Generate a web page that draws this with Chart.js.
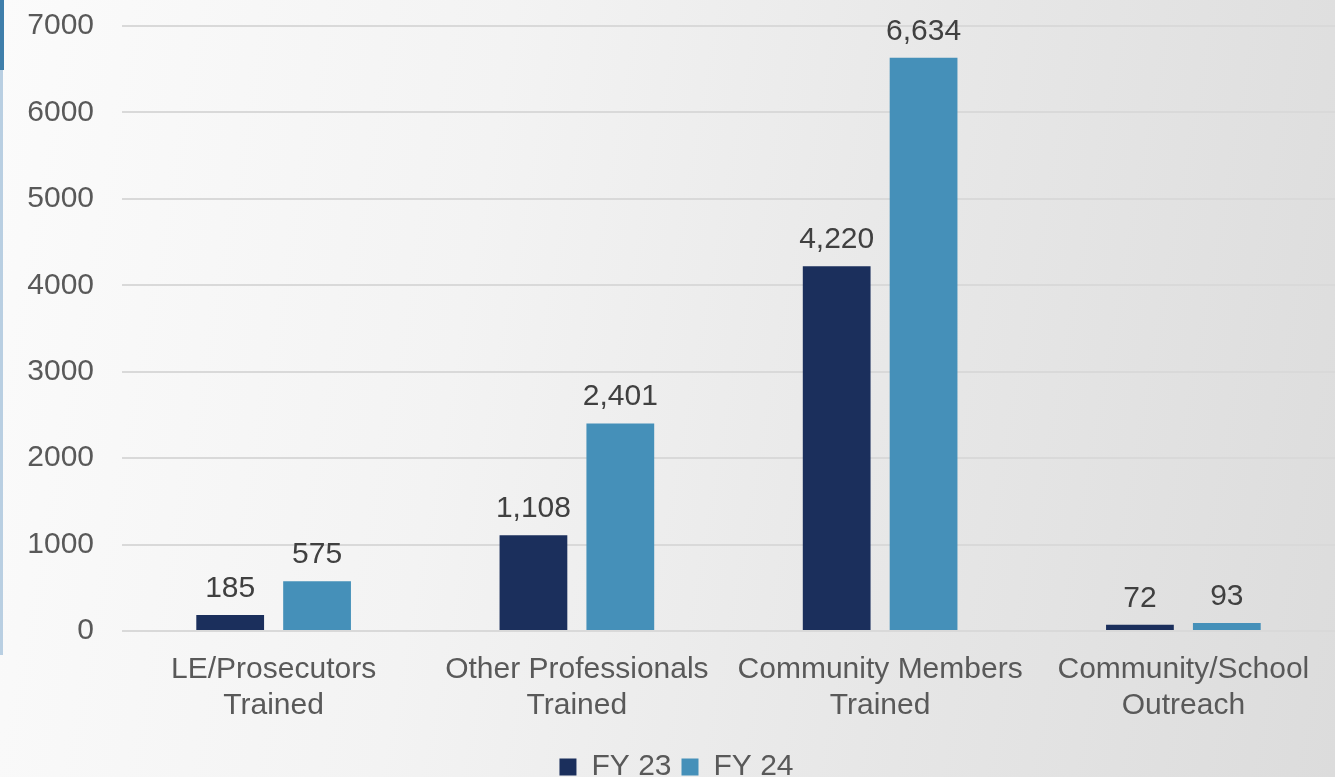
<!DOCTYPE html>
<html>
<head>
<meta charset="utf-8">
<script src="https://cdn.jsdelivr.net/npm/chart.js@4/dist/chart.umd.min.js"></script>
<style>
  html, body { margin: 0; padding: 0; }
  body {
    width: 1335px; height: 777px; overflow: hidden; position: relative;
    background: linear-gradient(100deg, #fbfbfb 0%, #f3f3f3 35%, #e6e6e6 70%, #dcdcdc 100%);
  }
  #edge1 { position: absolute; left: 0; top: 0; width: 4px; height: 70px; background: #3f7fab; }
  #edge2 { position: absolute; left: 0; top: 70px; width: 3px; height: 585px; background: #b9cfe2; }
  #wrap { position: absolute; left: 0; top: -20px; width: 1335px; height: 812px; }
</style>
</head>
<body>
<div id="edge1"></div>
<div id="edge2"></div>
<div id="wrap"><canvas id="canvas"></canvas></div>
<script>
var categories = [
    ['LE/Prosecutors', 'Trained'],
    ['Other Professionals', 'Trained'],
    ['Community Members', 'Trained'],
    ['Community/School', 'Outreach']
];
var fy23 = [185, 1108, 4220, 72];
var fy24 = [575, 2401, 6634, 93];
var yTicks = [0, 1000, 2000, 3000, 4000, 5000, 6000, 7000];

var tickColor = '#595959';
var labelFont = {family: "'Liberation Sans', Arial, sans-serif", size: 30};

// draws the value above each bar
var valueLabels = {
    id: 'valueLabels',
    afterDatasetsDraw: function (chart) {
        var ctx = chart.ctx;
        ctx.save();
        ctx.font = "30px 'Liberation Sans', Arial, sans-serif";
        ctx.fillStyle = '#404040';
        ctx.textAlign = 'center';
        ctx.textBaseline = 'alphabetic';
        chart.data.datasets.forEach(function (ds, i) {
            chart.getDatasetMeta(i).data.forEach(function (bar, j) {
                ctx.fillText(ds.data[j].toLocaleString('en-US'), bar.x, bar.y - 18);
            });
        });
        ctx.restore();
    }
};

var config = {type: 'bar', plugins: [valueLabels]};
config.data = {
    labels: categories,
    datasets: [
        {label: 'FY 23', data: fy23, backgroundColor: '#1b2f5c'},
        {label: 'FY 24', data: fy24, backgroundColor: '#4590b9'}
    ]
};
config.options = {
    responsive: false,
    animation: false,
    layout: {padding: {top: 0, left: 18, right: 0, bottom: 0}},
    datasets: {bar: {categoryPercentage: 0.573, barPercentage: 0.78}},
    plugins: {
        tooltip: {enabled: false},
        legend: {
            position: 'bottom',
            labels: {
                color: tickColor,
                font: labelFont,
                boxWidth: 17,
                boxHeight: 17,
                padding: 10
            }
        }
    },
    scales: {
        x: {
            afterFit: function (axis) { axis.height += 5; },
            grid: {display: false},
            border: {display: false},
            ticks: {color: tickColor, font: labelFont, maxRotation: 0, padding: 13}
        },
        y: {
            min: 0,
            max: 7000,
            afterBuildTicks: function (axis) {
                axis.ticks = yTicks.map(function (v) { return {value: v}; });
            },
            afterFit: function (axis) { axis.width = 104; },
            grid: {color: '#d9d9d9', lineWidth: 2, drawTicks: false},
            border: {display: false},
            ticks: {color: tickColor, font: labelFont, padding: 28,
                callback: function (v) { return String(v); }}
        }
    }
};

var canvas = document.getElementById('canvas');
canvas.width = 1335;
canvas.height = 812;
var chart = new Chart(canvas, config);
</script>
</body>
</html>
